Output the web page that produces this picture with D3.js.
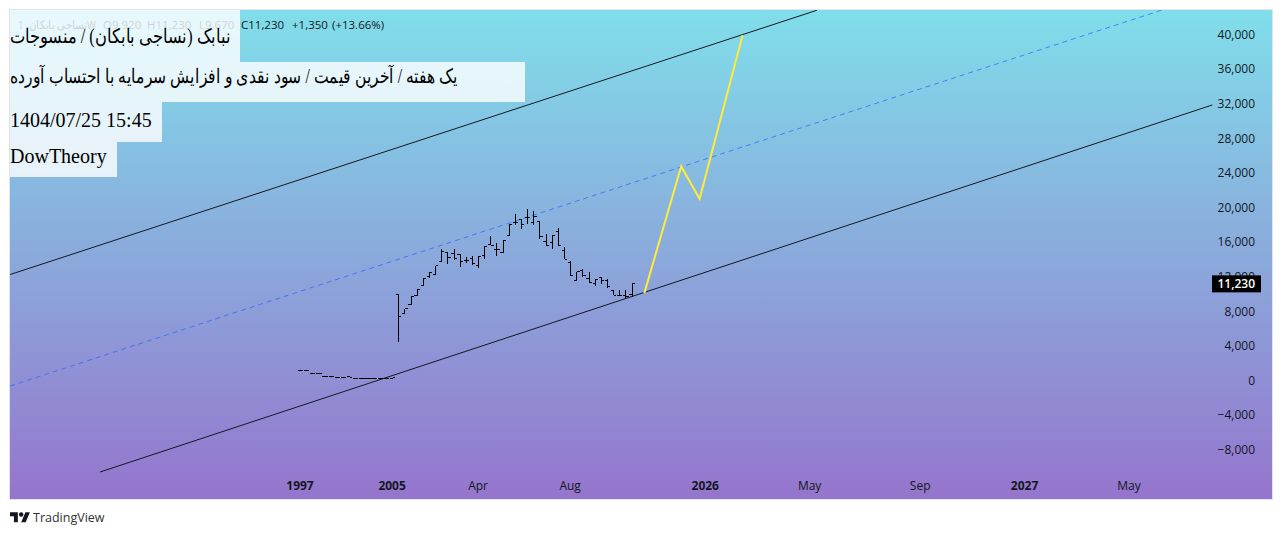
<!DOCTYPE html>
<html>
<head>
<meta charset="utf-8">
<script src="https://cdn.jsdelivr.net/npm/d3@7"></script>
<style>
  html, body { margin: 0; padding: 0; background: #fff; }
  svg { display: block; }
  text { font-family: "Open Sans", sans-serif; }
  .domain, .tick line { display: none; }
</style>
</head>
<body>
<div id="chart"></div>
<script>
// bars: open, high, low, close, weekly. index is bar position
const opens  = [1120,1120,770,770,430,430,310,310,500,270,270,270,270,270,270,270,
  9900,7700,8750,9830,10950,12020,12220,13720,14760,14640,14570,13870,14070,13260,14450,15690,15140,14760,16730,
  18300,18580,18810,18230,18380,16070,15920,17220,15030,13610,11560,12720,11790,11180,11870,11560,10400,9790,9790,9920];
const highs  = [1120,1120,770,770,430,430,310,310,520,270,270,270,270,270,270,300,
  9900,8280,9680,10480,11750,12450,13260,15180,14760,15220,14650,14220,14340,14340,15530,16650,15950,16150,18000,
  19270,18700,19850,19540,18380,16880,16730,17650,15410,13790,12600,12910,12520,11640,11990,11760,10400,10480,10480,11230];
const lows   = [1120,1120,770,770,430,430,310,310,350,270,270,270,270,270,270,270,
  4430,7700,8750,9750,10950,11830,12220,13720,13490,13950,13100,13560,13410,12950,13990,15610,14450,14760,16730,
  18000,17460,18120,18000,16380,15610,15220,15570,14020,12100,11560,12020,11300,10950,11180,10750,9860,9750,9510,9670];
const closes = [1120,1120,770,770,430,430,310,310,350,270,270,270,270,270,270,300,
  7360,8280,9680,10480,11750,12450,13260,14880,14180,14100,13720,13870,13490,14340,15530,15610,15140,16150,18000,
  18250,18000,18810,18960,16650,15610,16730,15570,14020,12100,12600,12140,11300,11640,11560,10870,9860,9790,9750,11230];

// forecast path drawn in yellow
const forecastIdx = [56, 62, 65, 72];
const forecastVal = [10100, 24750, 21000, 39900];

// channel lines, two ends each
const upperIdx = [-47.3, 84.1],   upperVal = [12250, 42800];
const middleIdx = [-47.3, 140.3], middleVal = [-640, 42830];
const lowerIdx = [-32.65, 148.5], lowerVal = [-10580, 31850];

const priceTicks = [-8000,-4000,0,4000,8000,12000,16000,20000,24000,28000,32000,36000,40000];
const timeIdx = [0, 15, 29, 44, 66, 83, 101, 118, 135];
const timeLabels = ["1997","2005","Apr","Aug","2026","May","Sep","2027","May"];
const timeBold = ["1997","2005","2026","2027"];

const lastPrice = 11230;
const titleLines = [
  "نبابک (نساجی بابکان) / منسوجات",
  "یک هفته / آخرین قیمت / سود نقدی و افزایش سرمایه با احتساب آورده",
  "1404/07/25 15:45",
  "DowTheory"
];
const legendItems = ["نساجی بابکان, 1W", "O9,920", "H11,230", "L9,670", "C11,230", "+1,350", "(+13.66%)"];

const width = 1282, height = 535;
const pane = { left: 10, top: 10, right: 1272, bottom: 499 };

const svg = d3.select("#chart").append("svg")
  .attr("width", width).attr("height", height);

const defs = svg.append("defs");
const grad = defs.append("linearGradient").attr("id", "bg")
  .attr("x1", 0).attr("y1", 0).attr("x2", 0).attr("y2", 1);
grad.append("stop").attr("offset", "0%").attr("stop-color", "#80deea");
grad.append("stop").attr("offset", "100%").attr("stop-color", "#9575cd");
defs.append("clipPath").attr("id", "clip").append("rect")
  .attr("x", pane.left).attr("y", pane.top)
  .attr("width", pane.right - pane.left).attr("height", pane.bottom - pane.top);

svg.append("rect")
  .attr("x", pane.left).attr("y", pane.top)
  .attr("width", pane.right - pane.left).attr("height", pane.bottom - pane.top)
  .attr("fill", "url(#bg)");

const x = d3.scaleLinear().domain([0, 100]).range([300.5, 914.5]);
const y = d3.scaleLinear().domain([0, 40000]).range([380.5, 34.5]);

const plot = svg.append("g").attr("clip-path", "url(#clip)");

const line = d3.line().x(d => x(d[0])).y(d => y(d[1]));

plot.append("path").attr("d", line(d3.zip(upperIdx, upperVal)))
  .attr("fill", "none").attr("stroke", "#131722").attr("stroke-width", 1);
plot.append("path").attr("d", line(d3.zip(lowerIdx, lowerVal)))
  .attr("fill", "none").attr("stroke", "#131722").attr("stroke-width", 1);
plot.append("path").attr("d", line(d3.zip(middleIdx, middleVal)))
  .attr("fill", "none").attr("stroke", "#2962ff").attr("stroke-opacity", 0.7).attr("stroke-width", 1)
  .attr("stroke-dasharray", "5 4");

// ohlc bars
const tick = 2.7;
const bars = plot.append("g").selectAll("g").data(d3.range(opens.length)).enter().append("g")
  .attr("stroke", "#000").attr("stroke-width", 1).attr("shape-rendering", "crispEdges");
bars.append("line")
  .attr("x1", i => x(i)).attr("x2", i => x(i))
  .attr("y1", i => y(highs[i])).attr("y2", i => y(lows[i]));
bars.append("line")
  .attr("x1", i => x(i) - tick).attr("x2", i => x(i))
  .attr("y1", i => y(opens[i])).attr("y2", i => y(opens[i]));
bars.append("line")
  .attr("x1", i => x(i)).attr("x2", i => x(i) + tick)
  .attr("y1", i => y(closes[i])).attr("y2", i => y(closes[i]));

plot.append("path").attr("d", line(d3.zip(forecastIdx, forecastVal)))
  .attr("fill", "none").attr("stroke", "#ffeb3b").attr("stroke-width", 2);

// pane border on top of the gradient
svg.append("rect")
  .attr("x", pane.left - 0.5).attr("y", pane.top - 0.5)
  .attr("width", pane.right - pane.left + 1).attr("height", pane.bottom - pane.top + 1)
  .attr("fill", "none").attr("stroke", "#e0e3eb");

// axes
const yAxis = d3.axisRight(y).tickValues(priceTicks).tickSize(0).tickPadding(0)
  .tickFormat(d3.format(","));
const yG = svg.append("g").attr("transform", "translate(1255,0)").call(yAxis);
yG.selectAll("text").attr("text-anchor", "end").attr("x", 0)
  .attr("font-size", 12).attr("fill", "#131722").style("font-family", '"Open Sans", sans-serif');

const xAxis = d3.axisBottom(x).tickValues(timeIdx).tickSize(0).tickPadding(0)
  .tickFormat((d, i) => timeLabels[i]);
const xG = svg.append("g").attr("transform", "translate(-1,481)").call(xAxis);
xG.selectAll("text").attr("font-size", 12).attr("fill", "#131722")
  .style("font-family", '"Open Sans", sans-serif')
  .attr("font-weight", (d, i) => timeBold.includes(timeLabels[i]) ? 700 : 400);

// last price tag
svg.append("rect").attr("x", 1212).attr("y", y(lastPrice) - 8).attr("width", 49).attr("height", 17)
  .attr("fill", "#000");
svg.append("text").attr("x", 1255).attr("y", y(lastPrice) + 5)
  .attr("text-anchor", "end").attr("font-size", 12).attr("font-weight", 600).attr("fill", "#fff")
  .text(d3.format(",")(lastPrice));

// legend row, sits under the title boxes
const legendX = [18, 103, 147, 199, 241, 292, 332];
const legendFit = [78, null, null, null, null, null, null];
svg.append("g").selectAll("text").data(legendItems).enter().append("text")
  .attr("x", (d, i) => legendX[i]).attr("y", 29)
  .attr("font-size", 11.5).attr("fill", "#131722").attr("direction", "ltr")
  .attr("textLength", (d, i) => legendFit[i])
  .attr("lengthAdjust", "spacingAndGlyphs")
  .text(d => d);

// title boxes
const boxRight = [240, 525, 162, 117];
const boxTop = [10, 62, 102, 142];
const boxBottom = [62, 102, 142, 177];
const baseLine = [43, 83, 127, 163];
const titleFit = [221, 448, null, null];
svg.append("g").selectAll("rect").data(titleLines).enter().append("rect")
  .attr("x", 10).attr("y", (d, i) => boxTop[i])
  .attr("width", (d, i) => boxRight[i] - 10).attr("height", (d, i) => boxBottom[i] - boxTop[i])
  .attr("fill", "#fff").attr("fill-opacity", 0.8);
svg.append("g").selectAll("text").data(titleLines).enter().append("text")
  .attr("x", 10).attr("y", (d, i) => baseLine[i])
  .attr("font-size", 20).attr("fill", "#000")
  .attr("textLength", (d, i) => titleFit[i])
  .attr("lengthAdjust", "spacingAndGlyphs")
  .style("font-family", '"Liberation Serif", serif')
  .text(d => d);

// footer logo + name
const logo = svg.append("g").attr("transform", "translate(10,510) scale(0.56)").attr("fill", "#131722");
logo.append("path").attr("d", "M14 22H7V11H0V4h14v18zM28 22h-8l7.5-18h8L28 22z");
logo.append("circle").attr("cx", 20).attr("cy", 8).attr("r", 4);
svg.append("text").attr("x", 33).attr("y", 522).attr("font-size", 12.5).attr("fill", "#333")
  .text("TradingView");
</script>
</body>
</html>
